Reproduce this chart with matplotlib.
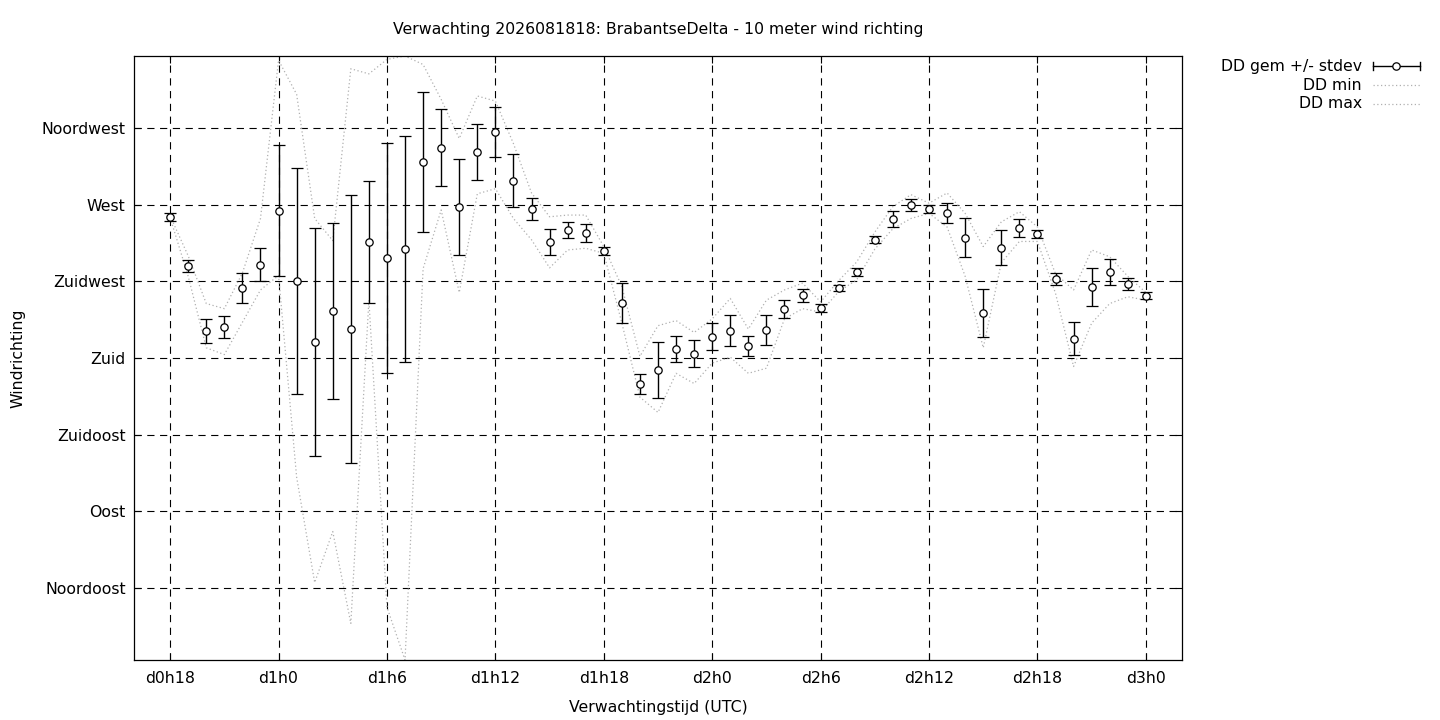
import matplotlib
matplotlib.use("Agg")
import matplotlib.pyplot as plt
from matplotlib.lines import Line2D
import numpy as np

# forecast hours (hours since d0h0)
hours = list(range(18, 73))

dd_mean = [262.9, 234.1, 195.9, 198.2, 221.2, 234.7, 266.5, 225.3, 189.4, 207.6,
           197.0, 248.2, 238.8, 244.1, 295.3, 303.5, 268.8, 301.2, 312.9, 284.1,
           267.6, 248.2, 255.3, 253.5, 243.0, 212.4, 164.7, 172.9, 185.3, 182.4,
           192.4, 195.9, 187.1, 196.5, 208.8, 217.0, 209.4, 221.2, 230.6, 249.4,
           261.8, 270.0, 267.6, 265.3, 250.6, 206.5, 244.7, 256.5, 252.9, 226.5,
           191.2, 221.8, 230.6, 223.5, 216.5]

dd_stdev = [2.1, 3.5, 7.1, 6.5, 8.8, 9.7, 38.5, 66.5, 66.8, 51.5,
            78.8, 35.6, 67.4, 66.5, 41.2, 22.6, 28.2, 16.5, 14.7, 15.6,
            6.2, 7.6, 4.7, 5.3, 2.4, 11.8, 5.9, 16.5, 7.9, 7.9,
            7.9, 9.1, 5.9, 8.8, 5.3, 3.8, 2.1, 1.8, 2.4, 2.1,
            4.7, 3.5, 2.4, 5.9, 11.5, 14.1, 10.3, 5.3, 2.6, 3.5,
            9.7, 11.2, 7.6, 3.5, 2.1]

dd_min = [262.5, 228.0, 186.0, 182.0, 201.0, 220.0, 228.5, 110.0, 48.0, 78.0,
          24.0, 214.0, 33.5, 2.5, 232.5, 267.0, 218.5, 276.5, 279.5, 262.0,
          249.5, 233.0, 243.5, 244.5, 241.5, 200.5, 157.0, 148.0, 171.0, 165.0,
          177.0, 180.5, 171.0, 174.0, 203.0, 209.0, 207.0, 219.0, 226.0, 244.0,
          256.0, 262.0, 265.0, 257.0, 228.0, 186.0, 236.0, 248.5, 248.5, 218.0,
          175.0, 200.5, 212.0, 216.0, 214.0]

dd_max = [263.5, 240.0, 212.0, 209.0, 230.0, 262.0, 355.0, 335.0, 262.0, 249.0,
          350.0, 347.0, 355.5, 357.5, 352.5, 332.0, 309.0, 334.0, 331.0, 306.0,
          277.0, 263.0, 264.0, 264.0, 245.5, 222.0, 181.0, 199.0, 202.0, 195.0,
          203.0, 215.0, 197.0, 214.0, 220.0, 224.0, 213.0, 225.5, 236.5, 254.0,
          269.0, 276.0, 271.0, 277.0, 265.0, 245.5, 260.0, 266.0, 257.0, 229.5,
          220.0, 243.5, 239.5, 228.0, 218.5]

xtick_hours = [18, 24, 30, 36, 42, 48, 54, 60, 66, 72]
xtick_labels = ["d0h18", "d1h0", "d1h6", "d1h12", "d1h18",
                "d2h0", "d2h6", "d2h12", "d2h18", "d3h0"]
ytick_values = [45, 90, 135, 180, 225, 270, 315]
ytick_labels = ["Noordoost", "Oost", "Zuidoost", "Zuid", "Zuidwest", "West", "Noordwest"]

plt.rcParams['font.family'] = ['DejaVu Sans']
FS = 11.3

fig = plt.figure(figsize=(14.4, 7.2), dpi=100)
ax = fig.add_axes([134/1440, 1 - 660/720, (1182-134)/1440, (660-56)/720])

gray = '#b0b0b0'
ax.plot(hours, dd_min, color=gray, linestyle=(0, (1, 2)), linewidth=0.9, zorder=2)
ax.plot(hours, dd_max, color=gray, linestyle=(0, (1, 2)), linewidth=0.9, zorder=2)
ax.errorbar(hours, dd_mean, yerr=dd_stdev, fmt='o', color='black', ecolor='black',
            elinewidth=1.0, capsize=4.4, capthick=1.0, markersize=5.3,
            markerfacecolor='white', markeredgecolor='black', markeredgewidth=0.9,
            zorder=3)

ax.set_xlim(16, 74)
ax.set_ylim(min(dd_min), max(dd_max))
ax.set_xticks(xtick_hours)
ax.set_xticklabels(xtick_labels, fontsize=FS)
ax.set_yticks(ytick_values)
ax.set_yticklabels(ytick_labels, fontsize=FS)
ax.tick_params(axis='x', direction='in', length=5, width=0.8, top=True, pad=8)
ax.tick_params(axis='y', direction='in', length=5, width=0.8, right=True, pad=6)
ax.grid(True, color='black', linestyle=(0, (6.5, 5)), linewidth=0.8)
for s in ax.spines.values():
    s.set_linewidth(0.9)

ax.set_xlabel("Verwachtingstijd (UTC)", fontsize=FS, labelpad=10)
ax.set_ylabel("Windrichting", fontsize=FS, labelpad=12)
ax.set_title("Verwachting 2026081818: BrabantseDelta - 10 meter wind richting",
             fontsize=FS, pad=15.5)

# gnuplot-style legend at top right, outside the plot
def fx(px):
    return px / 1440

def fy(py):
    return 1 - py / 720

legend_rows = ["DD gem +/- stdev", "DD min", "DD max"]
rows_y = [66, 85, 104]
for label, yy in zip(legend_rows, rows_y):
    fig.text(fx(1362), fy(yy), label, ha='right', va='center', fontsize=FS)
# errorbar sample
fig.add_artist(Line2D([fx(1373), fx(1420)], [fy(66), fy(66)], color='black', lw=1.0))
fig.add_artist(Line2D([fx(1373), fx(1373)], [fy(62), fy(70)], color='black', lw=1.0))
fig.add_artist(Line2D([fx(1420), fx(1420)], [fy(62), fy(70)], color='black', lw=1.0))
fig.add_artist(Line2D([fx(1396)], [fy(66)], marker='o', markersize=5.3,
                      markerfacecolor='white', markeredgecolor='black',
                      markeredgewidth=0.9, linestyle='none'))
for yy in rows_y[1:]:
    fig.add_artist(Line2D([fx(1373), fx(1420)], [fy(yy), fy(yy)], color=gray,
                          linestyle=(0, (1, 2)), lw=0.9))

fig.savefig("out.png", dpi=100)
